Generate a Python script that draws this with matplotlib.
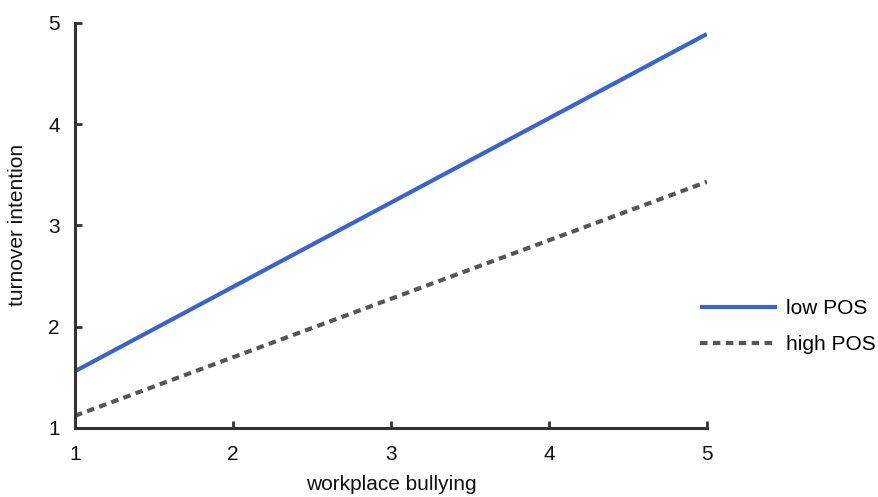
import matplotlib
matplotlib.use("Agg")
import matplotlib.pyplot as plt

plt.rcParams["font.family"] = ["Liberation Sans", "DejaVu Sans"]

bullying = [1, 5]
low_pos = [1.56, 4.89]
high_pos = [1.12, 3.43]
series_labels = ["low POS", "high POS"]

INK = "#333333"
BLUE = "#3c64c8"
GREY = "#555555"

fig = plt.figure(figsize=(8.79, 4.97), dpi=100)
ax = fig.add_axes([0.0853, 0.139, 0.7189, 0.815])

ax.plot(bullying, low_pos, color=BLUE, lw=3, label=series_labels[0],
        solid_capstyle="butt")
ax.plot(bullying, high_pos, color=GREY, lw=3, ls=(0, (1.8, 1.3)),
        label=series_labels[1])

ax.set_xlim(1, 5)
ax.set_ylim(1, 5)
ax.set_xticks([1, 2, 3, 4, 5])
ax.set_yticks([1, 2, 3, 4, 5])
for side in ("top", "right"):
    ax.spines[side].set_visible(False)
for side in ("left", "bottom"):
    ax.spines[side].set_color(INK)
    ax.spines[side].set_linewidth(2.2)
ax.tick_params(direction="in", length=5, width=2, color=INK,
               labelsize=15, labelcolor="#111111")
ax.tick_params(axis="x", pad=12)
ax.tick_params(axis="y", pad=11)

ax.set_xlabel("workplace bullying", fontsize=15, labelpad=8, color="#111111")
ax.set_ylabel("turnover intention", fontsize=15, labelpad=15, color="#111111")

leg = ax.legend(loc="center left", bbox_to_anchor=(0.96, 0.25), frameon=False,
                fontsize=15, handlelength=3.7, handletextpad=0.4,
                labelspacing=0.8)

fig.savefig("out.png", dpi=100)
